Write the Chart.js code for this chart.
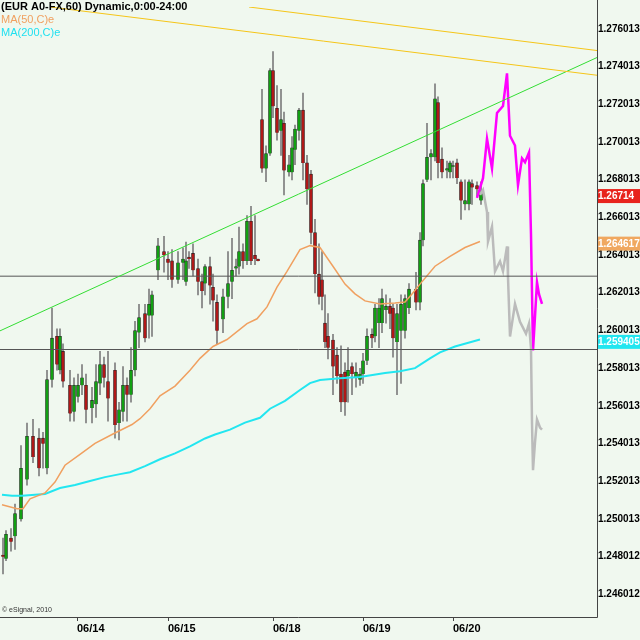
<!DOCTYPE html>
<html><head><meta charset="utf-8">
<script src="https://cdn.jsdelivr.net/npm/chart.js@4/dist/chart.umd.min.js"></script>
<style>html,body{margin:0;padding:0;background:#f0f8ef}#w{width:640px;height:640px}</style>
</head><body><div id="w"><canvas id="c" width="640" height="640"></canvas></div>
<script>
const candleT=[3,6,11,15,21,27,33,39,43,47,52,57,60,63,70,74,78,82,86,92,96,100,104,108,115,119,123,127,131,135,139,145,149,152,158,164,168,172,178,183,186,189,193,198,202,205,210,213,217,223,228,232,236,239,243,247,251,255,258,262,266,270,273,277,281,284,289,292,295,299,303,307,311,315,319,322,325,328,333,337,341,345,348,352,356,360,363,367,372,375,379,382,386,390,393,397,401,405,409,416,420,423,427,431,435,438,442,447,450,453,457,461,465,469,472,477,481];
const candleO=[1.2481,1.2479,1.2490,1.2491,1.2500,1.2521,1.2544,1.2543,1.2543,1.2527,1.2574,1.2597,1.2579,1.2589,1.2571,1.2557,1.2565,1.2571,1.2571,1.2559,1.2561,1.2572,1.2582,1.2573,1.2579,1.2551,1.2557,1.2571,1.2566,1.2579,1.2599,1.2609,1.2608,1.2608,1.2632,1.2642,1.2638,1.2637,1.2627,1.2636,1.2626,1.2639,1.2641,1.2633,1.2626,1.2625,1.2634,1.2623,1.2615,1.2606,1.2618,1.2626,1.2633,1.2634,1.2642,1.2637,1.2658,1.2640,1.2638,1.2712,1.2686,1.2694,1.2738,1.2718,1.2706,1.2710,1.2684,1.2684,1.2696,1.2706,1.2717,1.2689,1.2683,1.2652,1.2630,1.2627,1.2604,1.2597,1.2595,1.2587,1.2577,1.2578,1.2576,1.2581,1.2575,1.2574,1.2577,1.2584,1.2598,1.2597,1.2604,1.2604,1.2611,1.2613,1.2612,1.2594,1.2600,1.2600,1.2612,1.2622,1.2615,1.2648,1.2680,1.2692,1.2692,1.2721,1.2691,1.2685,1.2684,1.2687,1.2689,1.2679,1.2667,1.2667,1.2678,1.2677,1.2669];
const candleH=[1.2490,1.2494,1.2495,1.2508,1.2539,1.2551,1.2553,1.2548,1.2546,1.2579,1.2612,1.2601,1.2601,1.2593,1.2579,1.2575,1.2577,1.2582,1.2577,1.2570,1.2582,1.2589,1.2586,1.2589,1.2583,1.2562,1.2581,1.2575,1.2591,1.2605,1.2614,1.2614,1.2622,1.2621,1.2649,1.2650,1.2642,1.2643,1.2642,1.2644,1.2647,1.2642,1.2646,1.2638,1.2630,1.2635,1.2639,1.2630,1.2619,1.2622,1.2642,1.2649,1.2638,1.2655,1.2646,1.2661,1.2666,1.2661,1.2638,1.2728,1.2698,1.2739,1.2748,1.2730,1.2728,1.2716,1.2693,1.2703,1.2709,1.2718,1.2726,1.2693,1.2685,1.2659,1.2646,1.2642,1.2619,1.2609,1.2598,1.2591,1.2592,1.2583,1.2591,1.2583,1.2583,1.2580,1.2588,1.2601,1.2601,1.2614,1.2617,1.2622,1.2619,1.2617,1.2614,1.2614,1.2619,1.2619,1.2625,1.2631,1.2652,1.2680,1.2710,1.2696,1.2731,1.2724,1.2697,1.2690,1.2690,1.2690,1.2691,1.2680,1.2680,1.2680,1.2680,1.2679,1.2679];
const candleL=[1.2471,1.2478,1.2483,1.2484,1.2499,1.2518,1.2530,1.2523,1.2527,1.2524,1.2570,1.2579,1.2577,1.2570,1.2552,1.2552,1.2562,1.2566,1.2551,1.2551,1.2554,1.2566,1.2570,1.2552,1.2543,1.2542,1.2552,1.2552,1.2562,1.2576,1.2591,1.2594,1.2596,1.2597,1.2627,1.2631,1.2627,1.2623,1.2625,1.2627,1.2624,1.2633,1.2629,1.2619,1.2612,1.2619,1.2614,1.2605,1.2593,1.2599,1.2612,1.2617,1.2629,1.2630,1.2633,1.2635,1.2635,1.2635,1.2637,1.2684,1.2679,1.2693,1.2713,1.2701,1.2693,1.2672,1.2682,1.2680,1.2688,1.2701,1.2680,1.2667,1.2646,1.2620,1.2614,1.2611,1.2591,1.2585,1.2566,1.2572,1.2557,1.2555,1.2562,1.2566,1.2570,1.2571,1.2572,1.2582,1.2591,1.2594,1.2591,1.2599,1.2604,1.2601,1.2586,1.2566,1.2572,1.2596,1.2609,1.2611,1.2611,1.2645,1.2679,1.2680,1.2690,1.2681,1.2681,1.2681,1.2681,1.2681,1.2678,1.2659,1.2664,1.2664,1.2667,1.2671,1.2667];
const candleC=[1.2480,1.2492,1.2488,1.2503,1.2527,1.2544,1.2533,1.2527,1.2540,1.2574,1.2596,1.2582,1.2597,1.2573,1.2556,1.2571,1.2571,1.2575,1.2558,1.2563,1.2573,1.2582,1.2575,1.2564,1.2550,1.2558,1.2571,1.2566,1.2579,1.2600,1.2607,1.2596,1.2614,1.2619,1.2645,1.2640,1.2636,1.2627,1.2636,1.2638,1.2637,1.2638,1.2632,1.2626,1.2621,1.2634,1.2624,1.2616,1.2600,1.2618,1.2625,1.2632,1.2634,1.2642,1.2637,1.2658,1.2637,1.2638,1.2637,1.2686,1.2694,1.2738,1.2719,1.2705,1.2712,1.2685,1.2688,1.2697,1.2707,1.2717,1.2689,1.2675,1.2652,1.2630,1.2618,1.2618,1.2594,1.2591,1.2581,1.2576,1.2562,1.2562,1.2579,1.2577,1.2578,1.2577,1.2584,1.2597,1.2596,1.2612,1.2612,1.2617,1.2613,1.2609,1.2596,1.2609,1.2614,1.2617,1.2622,1.2615,1.2648,1.2678,1.2692,1.2694,1.2723,1.2689,1.2684,1.2686,1.2689,1.2687,1.2681,1.2669,1.2669,1.2679,1.2676,1.2675,1.2673];

const ma50T=[2,17,23,30,45,55,65,80,95,112,132,140,150,160,175,190,200,213,227,247,257,267,277,287,300,310,320,335,345,355,365,380,395,405,412,420,435,450,465,480];
const ma50V=[1.25076,1.25055,1.25055,1.25108,1.25139,1.25197,1.25286,1.25344,1.25402,1.25449,1.25502,1.25533,1.25586,1.25654,1.25706,1.25790,1.25853,1.25916,1.25953,1.26037,1.26063,1.26126,1.26231,1.26315,1.26430,1.26451,1.26441,1.26326,1.26247,1.26195,1.26158,1.26142,1.26147,1.26152,1.26195,1.26247,1.26342,1.26394,1.26441,1.26473];
const ma200T=[2,12,22,35,45,60,75,90,105,120,130,145,160,175,190,205,215,230,245,260,270,285,300,310,320,340,360,385,400,415,430,440,455,480];
const ma200V=[1.25129,1.25124,1.25124,1.25129,1.25134,1.25165,1.25181,1.25202,1.25223,1.25239,1.25249,1.25281,1.25318,1.25349,1.25386,1.25428,1.25449,1.25475,1.25512,1.25538,1.25586,1.25628,1.25685,1.25722,1.25738,1.25748,1.25754,1.25775,1.25785,1.25801,1.25853,1.25885,1.25916,1.25953];
const projAT=[477,483,487,492,497,503,507,510,515,518,522,525,529,531,533,534,537,539,542];
const projAV=[1.26704,1.26809,1.27019,1.26861,1.27155,1.27192,1.27365,1.27034,1.26982,1.26772,1.26914,1.26893,1.26945,1.26509,1.25895,1.25984,1.26257,1.26194,1.26142];
const projBT=[480,483,487,488,492,495,500,503,507,508,510,515,520,526,529,531,532,533,535,537,540,542];
const projBV=[1.26720,1.26746,1.26630,1.26473,1.26552,1.26315,1.26368,1.26315,1.26447,1.26284,1.25969,1.26142,1.26047,1.25984,1.26037,1.25906,1.25512,1.25260,1.25407,1.25528,1.25486,1.25475];
const greenLine=[[0,1.25999],[597,1.27449]];
const yellowLine1=[[249,1.27717],[597,1.27486]];
const yellowLine2=[[50,1.27717],[597,1.27355]];
const hLines=[1.26289,1.25900];
const yTickValues=[1.276013,1.274013,1.272013,1.270013,1.268013,1.266013,1.264013,1.262013,1.260013,1.258013,1.256013,1.254013,1.252013,1.250013,1.248012,1.246012];
const yTickLabels=['1.276013','1.274013','1.272013','1.270013','1.268013','1.266013','1.264013','1.262013','1.260013','1.258013','1.256013','1.254013','1.252013','1.250013','1.248012','1.246012'];
const dateTickPos=[77,168,273,363,453];
const dateTickLabels=['06/14','06/15','06/18','06/19','06/20'];
const priceTags=[{v:1.26714,t:'1.26714',bg:'#e8231c',fg:'#fff'},{v:1.264617,t:'1.264617',bg:'#f0a860',fg:'#fff'},{v:1.259405,t:'1.259405',bg:'#22e6f0',fg:'#fff'}];

const up=i=>candleC[i]>=candleO[i];
const wicks=candleT.map((t,i)=>({x:t,y:[candleL[i],candleH[i]]}));
const bodies=candleT.map((t,i)=>({x:t,y:[Math.min(candleO[i],candleC[i]),Math.max(candleO[i],candleC[i])]}));
const pts=(T,V)=>T.map((t,i)=>({x:t,y:V[i]}));
const seg=a=>a.map(p=>({x:p[0],y:p[1]}));
const line=(data,color,w)=>({type:'line',data,borderColor:color,borderWidth:w,pointRadius:0,tension:0,fill:false,order:0});
const FONT='"Liberation Sans"';

const overlay={id:'overlay',afterDraw(ch){
  const c=ch.ctx,a=ch.chartArea,y=ch.scales.y;
  c.save();
  c.textBaseline='top';c.textAlign='left';
  c.font='bold 11px "Liberation Sans"';c.fillStyle='#000';c.fillText('(EUR A0-FX,60) Dynamic,0:00-24:00',1,1);
  c.font='11px "Liberation Sans"';c.fillStyle='#f0a060';c.fillText('MA(50,C)e',1,14);
  c.fillStyle='#20e0f0';c.fillText('MA(200,C)e',1,27);
  c.font='7px "Liberation Sans"';c.fillStyle='#333';c.fillText('© eSignal, 2010',2,607);
  c.font='bold 10px '+FONT;c.textBaseline='middle';
  priceTags.forEach(p=>{const py=y.getPixelForValue(p.v);c.fillStyle=p.bg;c.fillRect(a.right+1,py-7,42,14);c.fillStyle=p.fg;c.fillText(p.t,a.right+1,py+0.5);});
  c.strokeStyle='#444';c.lineWidth=1;c.beginPath();c.moveTo(a.right+0.5,0);c.lineTo(a.right+0.5,a.bottom+0.5);c.lineTo(0,a.bottom+0.5);c.stroke();
  c.restore();
}};

new Chart(document.getElementById('c'),{
  data:{datasets:[
    line(seg(yellowLine1),'#f5c518',1),
    line(seg(yellowLine2),'#f5c518',1),
    line(seg(greenLine),'#33dd33',1),
    line(seg([[0,hLines[0]],[597,hLines[0]]]),'#555',1),
    line(seg([[0,hLines[1]],[597,hLines[1]]]),'#555',1),
    line(pts(ma50T,ma50V),'#f0a060',1.5),
    line(pts(ma200T,ma200V),'#22e6f0',2),
    line(pts(projBT,projBV),'#bbbbbb',2.5),
    line(pts(projAT,projAV),'#ff00ff',2.5),
    {type:'bar',data:wicks,backgroundColor:'#7d7d7d',barThickness:1,grouped:false,order:2},
    {type:'bar',data:bodies,backgroundColor:candleT.map((t,i)=>up(i)?'#12a012':'#b01818'),borderColor:'#222',borderWidth:0.6,barThickness:3,minBarLength:1,grouped:false,order:1}
  ]},
  options:{responsive:false,animation:false,devicePixelRatio:1,
    layout:{padding:0},
    plugins:{legend:{display:false},tooltip:{enabled:false}},
    scales:{
      x:{type:'linear',offset:false,min:0,max:597,grid:{display:true,drawOnChartArea:false,drawTicks:true,tickLength:4,color:'#444',offset:false},border:{display:false},
        afterBuildTicks:s=>{s.ticks=dateTickPos.map(v=>({value:v}));},
        afterFit:s=>{s.height=23;},
        ticks:{autoSkip:false,maxRotation:0,align:'start',color:'#000',font:{family:FONT,size:11,weight:'bold'},padding:1,
          callback:(v)=>dateTickLabels[dateTickPos.indexOf(v)]}},
      y:{position:'right',min:1.24481,max:1.27717,grid:{display:false,drawTicks:false,tickLength:0},border:{display:false},
        afterBuildTicks:s=>{s.ticks=yTickValues.map(v=>({value:v}));},
        afterFit:s=>{s.width=43;},
        ticks:{autoSkip:false,color:'#000',padding:1,font:{family:FONT,size:10,weight:'bold'},
          callback:(v)=>yTickLabels[yTickValues.indexOf(v)]}}
    }},
  plugins:[overlay]
});
</script></body></html>
